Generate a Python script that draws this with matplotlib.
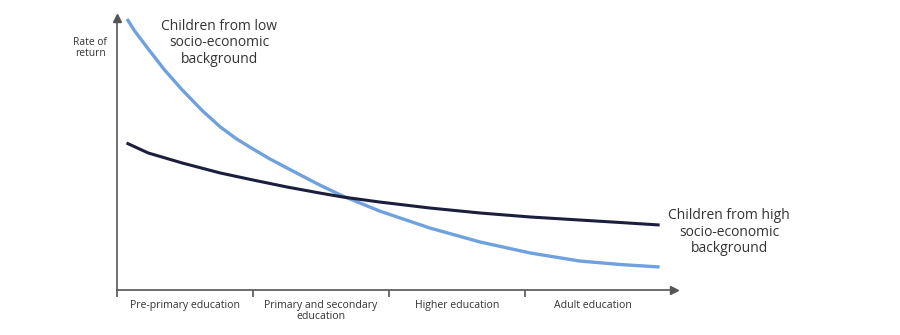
import numpy as np
import matplotlib
matplotlib.use("Agg")
from matplotlib import pyplot as plt

plt.rcParams['font.family'] = ['Open Sans', 'DejaVu Sans']

# education stages along the x axis
stages = ["Pre-primary education", "Primary and secondary\neducation",
          "Higher education", "Adult education"]

# curves (x in stage units, y = rate of return, arbitrary)
x_low = [0.074, 0.13, 0.23, 0.35, 0.48, 0.63, 0.76, 0.88, 1.00, 1.125,
         1.25, 1.49, 1.66, 1.93, 2.30, 2.67, 3.04, 3.40, 3.70, 3.99]
y_low = [271, 259, 241, 220, 200, 179, 163, 151, 141, 131,
         122, 105, 94, 79, 62, 48, 37, 29, 25.5, 23]

x_high = [0.07, 0.23, 0.48, 0.76, 1.00, 1.25, 1.49, 1.66, 1.93, 2.30, 2.67,
          3.04, 3.40, 3.70, 3.99]
y_high = [147, 137, 127, 117, 110, 103, 97, 93, 88, 82, 77, 73, 70, 67.5, 65]

light = "#6fa1de"
dark = "#1b1f3b"
axcol = "#555555"
txtcol = "#333333"

fig = plt.figure(figsize=(9, 3.35), dpi=100)
ax = fig.add_axes([117/900, 45/335, (680-117)/900, (290-10)/335])
ax.set_xlim(0, (680-117)/136)
ax.set_ylim(0, 280)

ax.plot(x_low, y_low, color=light, lw=2.4, solid_capstyle='butt',
        solid_joinstyle='round')
ax.plot(x_high, y_high, color=dark, lw=2.2, solid_capstyle='butt',
        solid_joinstyle='round')

for s in ['top', 'right']:
    ax.spines[s].set_visible(False)
for s in ['left', 'bottom']:
    ax.spines[s].set_color(axcol)
    ax.spines[s].set_linewidth(1.2)
ax.spines['left'].set_bounds(0, 270)
ax.spines['bottom'].set_bounds(0, (672-117)/136)

# arrow heads
ax.plot([(674-117)/136], [0], marker='>', ms=6, color=axcol, clip_on=False)
ax.plot([0], [272], marker='^', ms=6, color=axcol, clip_on=False)

ax.set_yticks([])
ax.set_xticks([0, 1, 2, 3])
ax.set_xticklabels([])
ax.tick_params(axis='x', which='major', direction='out', length=5, width=1.2, color=axcol)
ax.set_xticks([0.5, 1.5, 2.5, 3.5], minor=True)
ax.set_xticklabels(stages, minor=True, fontsize=7.6, color=txtcol, linespacing=1.0)
ax.tick_params(axis='x', which='minor', length=0, pad=7)

fig.text(90/900, 1 - 48/335, "Rate of\nreturn", ha='center', va='center',
         fontsize=7.4, color=txtcol, linespacing=1.1)
fig.text(219/900, 1 - 43/335, "Children from low\nsocio-economic\nbackground",
         ha='center', va='center', fontsize=10, color=txtcol, linespacing=1.1)
fig.text(729/900, 1 - 232/335, "Children from high\nsocio-economic\nbackground",
         ha='center', va='center', fontsize=10, color=txtcol, linespacing=1.1)

fig.savefig("out.png", dpi=100)
